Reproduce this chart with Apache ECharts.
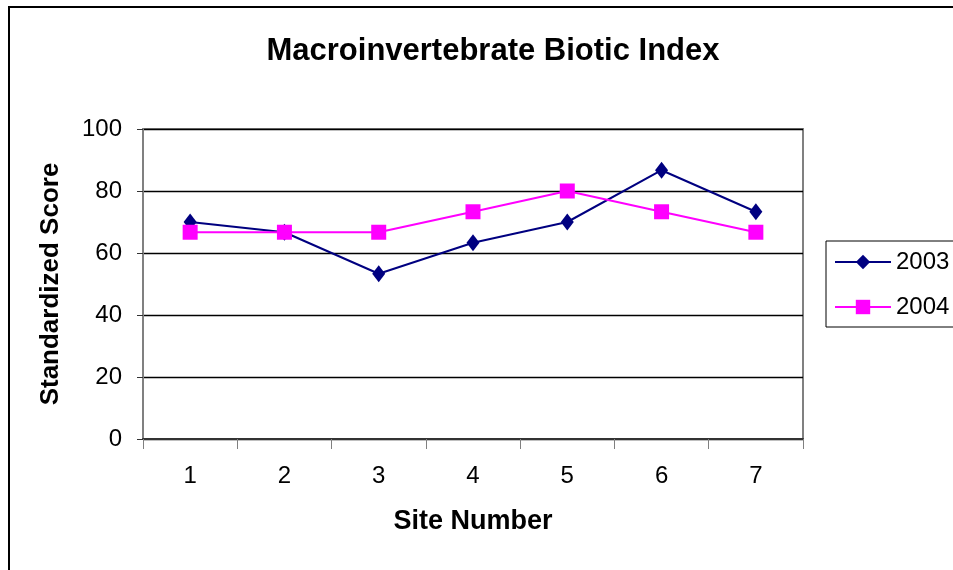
<!DOCTYPE html>
<html>
<head>
<meta charset="utf-8">
<script src="https://cdn.jsdelivr.net/npm/echarts@6/dist/echarts.min.js"></script>
<style>
  html, body { margin: 0; padding: 0; background: #fff; }
  #main { width: 953px; height: 570px; }
</style>
</head>
<body>
<div id="main"></div>
<script>
// 数据
var sites = ["1", "2", "3", "4", "5", "6", "7"];
var score2003 = [70, 66.7, 53.3, 63.3, 70, 86.7, 73.3];
var score2004 = [66.7, 66.7, 66.7, 73.3, 80, 73.3, 66.7];

var chart = echarts.init(document.getElementById("main"));
var font = "Liberation Sans, Arial, sans-serif";

chart.setOption({
  animation: false,
  backgroundColor: "#fff",
  title: {
    text: "Macroinvertebrate Biotic Index",
    left: 488,
    top: 31,
    textAlign: "center",
    textStyle: {
      fontFamily: font,
      fontSize: 31,
      fontWeight: "bold",
      color: "#000"
    }
  },
  graphic: [
    {
      type: "rect",
      shape: { x: 9, y: 7, width: 1200, height: 1200 },
      style: { fill: "none", stroke: "#000", lineWidth: 2 },
      silent: true
    }
  ],
  legend: {
    orient: "vertical",
    left: 826,
    top: 241,
    padding: [9, 40, 8, 8],
    itemGap: 21,
    itemWidth: 56,
    itemHeight: 18,
    borderColor: "#000",
    borderWidth: 1,
    textStyle: {
      fontFamily: font,
      fontSize: 24,
      color: "#000"
    },
    data: ["2003", "2004"]
  },
  grid: {
    left: 143,
    top: 129,
    width: 660,
    height: 310,
    show: true,
    borderColor: "#808080",
    borderWidth: 2
  },
  xAxis: {
    type: "category",
    data: sites,
    boundaryGap: true,
    name: "Site Number",
    nameLocation: "middle",
    nameGap: 69,
    nameTextStyle: {
      fontFamily: font,
      fontSize: 27,
      fontWeight: "bold",
      color: "#000"
    },
    axisLine: { lineStyle: { color: "#333", width: 2 } },
    axisTick: { show: true, length: 10, lineStyle: { color: "#808080", width: 1 } },
    axisLabel: {
      margin: 25,
      fontFamily: font,
      fontSize: 24,
      color: "#000"
    },
    splitLine: { show: false }
  },
  yAxis: {
    type: "value",
    min: 0,
    max: 100,
    interval: 20,
    name: "Standardized Score",
    nameLocation: "middle",
    nameGap: 79,
    nameTextStyle: {
      fontFamily: font,
      fontSize: 26,
      fontWeight: "bold",
      color: "#000"
    },
    axisLine: { show: true, lineStyle: { color: "#808080", width: 2 } },
    axisTick: { show: true, inside: false, length: 6, lineStyle: { color: "#333", width: 1 } },
    axisLabel: {
      margin: 21,
      fontFamily: font,
      fontSize: 24,
      color: "#000"
    },
    splitLine: { show: true, lineStyle: { color: "#000", width: 1.3 } }
  },
  series: [
    {
      name: "2003",
      type: "line",
      data: score2003,
      color: "#000080",
      symbol: "diamond",
      symbolSize: [13, 17],
      lineStyle: { width: 2, color: "#000080" },
      itemStyle: { color: "#000080" }
    },
    {
      name: "2004",
      type: "line",
      data: score2004,
      color: "#ff00ff",
      symbol: "rect",
      symbolSize: 15,
      lineStyle: { width: 2, color: "#ff00ff" },
      itemStyle: { color: "#ff00ff" }
    }
  ]
});
</script>
</body>
</html>
